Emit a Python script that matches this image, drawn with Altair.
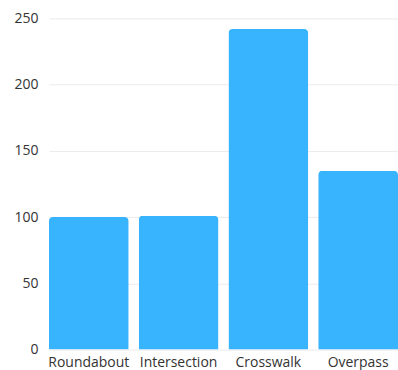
import altair as alt
import pandas as pd

categories = ["Roundabout", "Intersection", "Crosswalk", "Overpass"]
values = [100, 101, 242, 135]

df = pd.DataFrame({"category": categories, "value": values})

chart = alt.Chart(df).mark_bar(
    color="#38B4FF",
    cornerRadiusTopLeft=4,
    cornerRadiusTopRight=4,
).encode(
    x=alt.X("category:N", sort=categories, title=None,
            scale=alt.Scale(paddingInner=0.111, paddingOuter=0),
            axis=alt.Axis(labelAngle=0, ticks=False, domain=False, labelPadding=6,
                          labelFontSize=14, labelColor="#333333", labelFont="Open Sans")),
    y=alt.Y("value:Q", title=None,
            scale=alt.Scale(domain=[0, 250], nice=False),
            axis=alt.Axis(values=[0, 50, 100, 150, 200, 250], ticks=False, domain=False,
                          labelPadding=11, labelFontSize=14, labelColor="#333333",
                          labelFont="Open Sans", gridColor="#EBEBEB", gridWidth=1)),
).properties(
    width=350,
    height=332,
    autosize=alt.AutoSizeParams(type="none"),
    padding={"left": 49, "top": 18, "right": 0, "bottom": 20},
).configure_view(stroke=None)

chart.save("out.html", embed_options={"renderer": "svg", "actions": False})
